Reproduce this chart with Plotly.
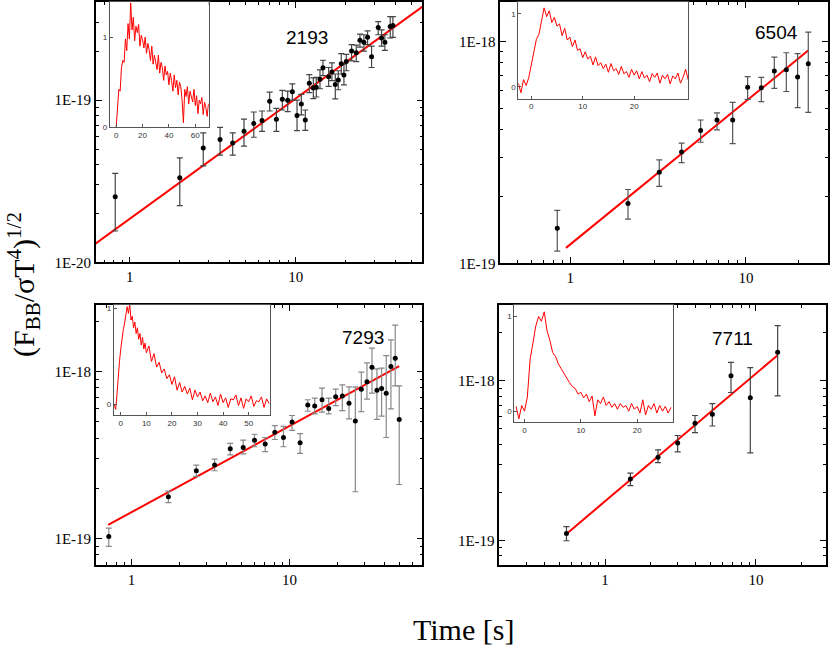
import numpy as np
import plotly.graph_objects as go

# ---------------- data ----------------
# Panel 2193 (flux in units of 1E-19)
t1 = [0.816, 2.00, 2.77, 3.50, 4.17, 4.88, 5.59, 6.27, 6.97, 7.65, 8.31, 8.95, 9.55, 10.19, 10.82,
      11.43, 12.09, 12.78, 13.32, 14.02, 14.61, 15.81, 16.55, 17.34, 18.07, 18.84, 19.55, 20.20,
      21.75, 23.20, 24.42, 25.80, 27.15, 28.70, 31.48, 32.97, 34.53, 37.19, 38.59]
f1 = [0.254, 0.332, 0.507, 0.572, 0.544, 0.643, 0.719, 0.750, 0.986, 0.764, 1.014, 1.000, 1.128,
      0.804, 0.946, 0.756, 1.274, 1.188, 1.204, 1.347, 1.585, 1.398, 1.492, 1.250, 1.335, 1.676,
      1.431, 1.731, 2.009, 1.963, 2.342, 2.279, 2.443, 1.857, 2.809, 2.420, 2.279, 2.848, 2.888]
hi1 = [0.354, 0.441, 0.628, 0.680, 0.628, 0.764, 0.846, 0.858, 1.123, 0.890, 1.150, 1.139, 1.262,
       1.000, 1.087, 0.870, 1.437, 1.372, 1.385, 1.541, 1.764, 1.592, 1.699, 1.451, 1.520, 1.936,
       1.668, 1.918, 2.205, 2.185, 2.559, 2.535, 2.681, 2.154, 3.054, 2.719, 2.535, 3.275, 3.275]
lo1 = [0.156, 0.224, 0.394, 0.458, 0.458, 0.521, 0.591, 0.643, 0.858, 0.643, 0.870, 0.850, 1.000,
       0.649, 0.811, 0.652, 1.113, 1.023, 1.047, 1.177, 1.418, 1.216, 1.322, 1.019, 1.160, 1.451,
       1.244, 1.520, 1.748, 1.731, 2.125, 2.009, 2.205, 1.592, 2.535, 2.154, 2.028, 2.420, 2.443]
unit1 = 1e-19

# Panel 6504 (flux in units of 1E-18)
t2 = [0.843, 2.13, 3.21, 4.30, 5.52, 6.84, 8.40, 10.22, 12.23, 14.50, 16.97, 19.68, 22.63]
f2 = [0.144, 0.186, 0.257, 0.317, 0.396, 0.442, 0.442, 0.621, 0.617, 0.734, 0.744, 0.690, 0.793]
hi2 = [0.173, 0.215, 0.292, 0.348, 0.442, 0.476, 0.531, 0.693, 0.688, 0.849, 0.888, 0.879, 1.100]
lo2 = [0.1135, 0.158, 0.222, 0.284, 0.351, 0.399, 0.346, 0.548, 0.535, 0.613, 0.594, 0.503, 0.478]
unit2 = 1e-18

# Panel 7293 (flux in units of 1E-18)
t3 = [0.719, 1.713, 2.574, 3.360, 4.220, 5.097, 6.010, 7.021, 8.081, 9.165, 10.39, 11.68, 13.06,
      14.45, 16.08, 17.72, 19.62, 21.61, 23.82, 26.12, 28.50, 30.94, 33.28, 35.78, 38.30, 40.98,
      43.87, 46.72, 49.52]
f3 = [0.1032, 0.1784, 0.2550, 0.2755, 0.3453, 0.3516, 0.3885, 0.3680, 0.4331, 0.4028, 0.4983,
      0.3747, 0.6305, 0.6219, 0.6776, 0.5998, 0.7059, 0.7124, 0.6448, 0.5050, 0.7833, 0.8692,
      1.0605, 0.7727, 0.7903, 0.7420, 1.070, 1.198, 0.5166]
hi3 = [0.1156, 0.1927, 0.2755, 0.2988, 0.3713, 0.3885, 0.4214, 0.4028, 0.4739, 0.4697, 0.5453,
       0.4252, 0.6776, 0.6931, 0.7940, 0.6930, 0.7833, 0.8307, 0.8085, 0.8085, 0.991, 1.125,
       1.379, 1.037, 1.046, 1.243, 1.544, 1.892, 0.820]
lo3 = [0.0901, 0.1645, 0.2361, 0.2550, 0.3170, 0.3213, 0.3548, 0.3316, 0.3920, 0.3548, 0.4450,
       0.3242, 0.5783, 0.5578, 0.5706, 0.5578, 0.6248, 0.5836, 0.5213, 0.1910, 0.5758, 0.684,
       0.742, 0.5166, 0.5404, 0.4028, 0.597, 0.820, 0.2110]
unit3 = 1e-18

# Panel 7711 (flux in units of 1E-18)
t4 = [0.555, 1.472, 2.244, 3.028, 3.945, 5.138, 6.831, 9.173, 13.92]
f4 = [0.1104, 0.2421, 0.3323, 0.4073, 0.5408, 0.6174, 1.0735, 0.7821, 1.509]
hi4 = [0.1220, 0.2636, 0.3687, 0.4540, 0.6057, 0.7184, 1.303, 1.208, 2.213]
lo4 = [0.0995, 0.2203, 0.3068, 0.3584, 0.4738, 0.5207, 0.8435, 0.3534, 0.8043]
unit4 = 1e-18

# power-law fits: (normalisation at t=1 s, index, t-span)
fit_norm = [1.858e-20, 1.217e-19, 1.44e-19, 1.76e-19]
fit_index = [0.741, 0.6446, 0.5151, 0.7998]
fit_span = [[0.55, 65.0], [0.945, 22.6], [0.712, 49.5], [0.552, 13.92]]

labels = ["2193", "6504", "7293", "7711"]

# inset light curves (normalised count rate vs time)
lc1_t = [0, 1, 2, 3, 4, 5, 6, 7, 8, 9, 10, 11, 12, 13, 14, 15, 16, 17, 18, 19, 20, 21, 22, 23, 24,
         25, 26, 27, 28, 29, 30, 31, 32, 33, 34, 35, 36, 37, 38, 39, 40, 41, 42, 43, 44, 45, 46, 47,
         48, 49, 50, 51, 52, 53, 54, 55, 56, 57, 58, 59, 60, 61, 62, 63, 64, 65, 66, 67, 68, 69, 70]
lc1_v = [0.00, 0.25, 0.42, 0.40, 0.66, 0.74, 0.72, 0.98, 0.85, 1.15,
         0.98, 1.38, 1.08, 1.22, 0.96, 1.12, 1.05, 1.14, 0.90, 1.02,
         0.97, 0.88, 1.00, 0.82, 0.93, 0.86, 0.74, 0.90, 0.70, 0.80,
         0.72, 0.64, 0.80, 0.60, 0.72, 0.66, 0.52, 0.68, 0.58, 0.62,
         0.47, 0.60, 0.52, 0.40, 0.58, 0.44, 0.52, 0.36, 0.50, 0.45,
         0.30, 0.05, 0.42, 0.34, 0.45, 0.26, 0.40, 0.33, 0.28, 0.42,
         0.24, 0.35, 0.15, 0.30, 0.26, 0.33, 0.14, 0.28, 0.22, 0.12, 0.26]

lc2_t = [-2.5, -2, -1.5, -1, -0.5, 0, 0.5, 1, 1.5, 2, 2.5, 3, 3.5, 4, 4.5, 5, 5.5, 6, 6.5, 7, 7.5,
         8, 8.5, 9, 9.5, 10, 10.5, 11, 11.5, 12, 12.5, 13, 13.5, 14, 14.5, 15, 15.5, 16, 16.5, 17,
         17.5, 18, 18.5, 19, 19.5, 20, 20.5, 21, 21.5, 22, 22.5, 23, 23.5, 24, 24.5, 25, 25.5, 26,
         26.5, 27, 27.5, 28, 28.5, 29, 29.5, 30, 30.5]
lc2_v = [0.05, -0.08, 0.10, 0.02, 0.12, 0.30, 0.45, 0.65, 0.72, 0.92,
         1.08, 0.96, 1.04, 0.88, 0.95, 0.83, 0.86, 0.70, 0.80, 0.64,
         0.68, 0.55, 0.64, 0.50, 0.52, 0.40, 0.48, 0.38, 0.42, 0.30,
         0.41, 0.29, 0.33, 0.25, 0.31, 0.20, 0.32, 0.22, 0.25, 0.17,
         0.28, 0.18, 0.21, 0.13, 0.24, 0.16, 0.22, 0.11, 0.21, 0.12,
         0.16, 0.07, 0.18, 0.13, 0.19, 0.05, 0.16, 0.11, 0.17, 0.04,
         0.15, 0.11, 0.19, 0.05, 0.13, 0.24, 0.10]

lc3_t = [-2.5, -2, -1.5, -1, -0.5, 0, 0.5, 1, 1.5, 2, 2.5, 3, 3.5, 4, 4.5, 5, 5.5, 6, 6.5, 7, 7.5,
         8, 8.5, 9, 9.5, 10, 11, 12, 13, 14, 15, 16, 17, 18, 19, 20, 21, 22, 23, 24, 25, 26, 27,
         28, 29, 30, 31, 32, 33, 34, 35, 36, 37, 38, 39, 40, 41, 42, 43, 44, 45, 46, 47, 48, 49,
         50, 51, 52, 53, 54, 55, 56, 57, 58]
lc3_v = [0.00, -0.05, 0.10, 0.30, 0.45, 0.58, 0.70, 0.78, 0.85, 0.92, 1.02, 0.95, 1.05, 0.88,
         0.92, 0.80, 0.86, 0.74, 0.80, 0.68, 0.74, 0.62, 0.70, 0.58, 0.64, 0.54,
         0.61, 0.45, 0.53, 0.39, 0.44, 0.33, 0.37, 0.27, 0.31, 0.21,
         0.29, 0.15, 0.23, 0.13, 0.19, 0.11, 0.17, 0.05, 0.15, 0.08,
         0.13, 0.04, 0.09, 0.02, 0.12, 0.03, 0.08, -0.01, 0.11, 0.02,
         0.07, -0.03, 0.06, 0.05, 0.10, -0.01, 0.07, -0.04, 0.06, 0.03,
         0.09, -0.02, 0.04, 0.03, 0.08, -0.03, 0.06, 0.01]

lc4_t = [-1.5, -1, -0.5, 0, 0.5, 1, 1.5, 2, 2.5, 3, 3.5, 4, 4.5, 5, 5.5, 6, 6.5, 7, 7.5, 8, 8.5,
         9, 9.5, 10, 10.5, 11, 11.5, 12, 12.5, 13, 13.5, 14, 14.5, 15, 15.5, 16, 16.5, 17, 17.5,
         18, 18.5, 19, 19.5, 20, 20.5, 21, 21.5, 22, 22.5, 23, 23.5, 24, 24.5, 25, 25.5, 26]
lc4_v = [0.05, -0.08, 0.06, 0.00, 0.15, 0.55, 0.72, 0.90, 1.00, 0.95,
         1.05, 0.85, 0.75, 0.62, 0.58, 0.50, 0.45, 0.40, 0.34, 0.30,
         0.26, 0.24, 0.18, 0.20, 0.14, 0.18, 0.10, 0.16, -0.05, 0.12,
         0.08, 0.15, 0.06, 0.10, 0.04, 0.08, 0.02, 0.08, 0.04, 0.06,
         0.00, 0.08, 0.02, 0.05, -0.02, 0.12, -0.04, 0.06, 0.02, 0.08,
         -0.02, 0.06, 0.00, 0.05, -0.02, 0.04]

# ---------------- layout geometry ----------------
W, H = 830, 645
def px_x(a, b):
    return [a / W, b / W]
def px_y(top, bottom):
    return [1 - bottom / H, 1 - top / H]

main_dom = [
    (px_x(96, 423), px_y(1, 265)),
    (px_x(501, 829), px_y(1, 266)),
    (px_x(96, 423), px_y(308, 572)),
    (px_x(500, 827), px_y(308, 572)),
]
main_xr = [[-0.205, 1.765], [-0.398, 1.467], [-0.225, 1.842], [-0.700, 1.464]]
main_yr = [[-20.0, -18.394], [-19.0, -17.823], [-19.157, -17.601], [-19.154, -17.524]]
ytick_vals = [[1e-20, 1e-19], [1e-19, 1e-18], [1e-19, 1e-18], [1e-19, 1e-18]]
ytick_text = [["1E-20", "1E-19"], ["1E-19", "1E-18"], ["1E-19", "1E-18"], ["1E-19", "1E-18"]]

inset_dom = [
    (px_x(110, 209), px_y(1, 128)),
    (px_x(519, 689), px_y(1, 99)),
    (px_x(114, 270), px_y(308, 420)),
    (px_x(515, 674), px_y(308, 427)),
]
inset_xr = [[-4.8, 70.2], [-2.5, 30.5], [-2.7, 58.2], [-1.8, 26.4]]
inset_yr = [[0.0, 1.39], [-0.16, 1.16], [-0.11, 1.04], [-0.115, 1.125]]
inset_xticks = [[0, 20, 40, 60], [0, 10, 20], [0, 10, 20, 30, 40, 50], [0, 10, 20]]

label_pos = [(307, 37), (777, 32), (363, 341), (733, 342)]

minor_x = [m * 10.0 ** e for e in range(-1, 3) for m in range(2, 10)]
minor_y = [m * 10.0 ** e for e in range(-21, -16) for m in range(2, 10)]

panels = [
    (t1, f1, hi1, lo1, unit1, "#444"),
    (t2, f2, hi2, lo2, unit2, "#555"),
    (t3, f3, hi3, lo3, unit3, "#888"),
    (t4, f4, hi4, lo4, unit4, "#444"),
]
curves = [(lc1_t, lc1_v), (lc2_t, lc2_v), (lc3_t, lc3_v), (lc4_t, lc4_v)]

fig = go.Figure()
layout = {}
serif = "Liberation Serif"

for i in range(4):
    n = i + 1
    xa = "x" if n == 1 else f"x{n}"
    ya = "y" if n == 1 else f"y{n}"
    t, f, hi, lo, unit, ecol = panels[i]
    t = np.array(t); f = np.array(f) * unit
    hi = np.array(hi) * unit; lo = np.array(lo) * unit

    span = np.array(fit_span[i])
    fig.add_trace(go.Scatter(x=span, y=fit_norm[i] * span ** fit_index[i], mode="lines",
                             line=dict(color="#ff0000", width=2), xaxis=xa, yaxis=ya,
                             hoverinfo="skip"))
    fig.add_trace(go.Scatter(x=t, y=f, mode="markers",
                             marker=dict(color="black", size=5),
                             error_y=dict(type="data", symmetric=False, array=hi - f,
                                          arrayminus=f - lo, color=ecol, thickness=1.2, width=3),
                             xaxis=xa, yaxis=ya))

    xd, yd = main_dom[i]
    layout["xaxis" if n == 1 else f"xaxis{n}"] = dict(
        type="log", domain=xd, range=main_xr[i], anchor=ya,
        showline=True, linecolor="black", linewidth=1.6, mirror="allticks",
        ticks="inside", ticklen=6, tickwidth=1.2, tickcolor="black",
        tickmode="array", tickvals=[1, 10], ticktext=["1", "10"],
        tickfont=dict(family=serif, size=15, color="black"),
        showgrid=False, zeroline=False,
        minor=dict(ticks="inside", ticklen=3, tickwidth=1, tickcolor="black",
                   tickmode="array", tickvals=minor_x, showgrid=False))
    layout["yaxis" if n == 1 else f"yaxis{n}"] = dict(
        type="log", domain=yd, range=main_yr[i], anchor=xa,
        showline=True, linecolor="black", linewidth=1.6, mirror="allticks",
        ticks="inside", ticklen=6, tickwidth=1.2, tickcolor="black",
        tickmode="array", tickvals=ytick_vals[i], ticktext=ytick_text[i],
        tickfont=dict(family=serif, size=15, color="black"),
        showgrid=False, zeroline=False,
        minor=dict(ticks="inside", ticklen=3, tickwidth=1, tickcolor="black",
                   tickmode="array", tickvals=minor_y, showgrid=False))

    # inset
    m = n + 4
    lt, lv = curves[i]
    fig.add_trace(go.Scatter(x=lt, y=lv, mode="lines", line=dict(color="#ff0000", width=1),
                             xaxis=f"x{m}", yaxis=f"y{m}", hoverinfo="skip"))
    ixd, iyd = inset_dom[i]
    layout[f"xaxis{m}"] = dict(
        domain=ixd, range=inset_xr[i], anchor=f"y{m}",
        showline=True, linecolor="#555", linewidth=1, mirror=True,
        ticks="inside", ticklen=3, tickcolor="#555", tickvals=inset_xticks[i],
        tickfont=dict(family="Liberation Sans", size=8, color="#333"),
        showgrid=False, zeroline=False)
    layout[f"yaxis{m}"] = dict(
        domain=iyd, range=inset_yr[i], anchor=f"x{m}",
        showline=True, linecolor="#555", linewidth=1, mirror=True,
        ticks="inside", ticklen=3, tickcolor="#555", tickvals=[0, 1],
        tickfont=dict(family="Liberation Sans", size=8, color="#333"),
        showgrid=False, zeroline=False)

annotations = []
for i in range(4):
    x, y = label_pos[i]
    annotations.append(dict(text=labels[i], x=x / W, y=1 - y / H, xref="paper", yref="paper",
                            showarrow=False, xanchor="center", yanchor="middle",
                            font=dict(family="Liberation Sans", size=19, color="black")))
annotations.append(dict(text="Time [s]", x=464 / W, y=1 - 637 / H, xref="paper", yref="paper",
                        showarrow=False, xanchor="center", yanchor="middle",
                        font=dict(family=serif, size=30, color="black")))
annotations.append(dict(text="(F<sub>BB</sub>/σT<sup>4</sup>)<sup>1/2</sup>", x=24 / W,
                        y=1 - 287 / H, xref="paper", yref="paper", textangle=-90,
                        showarrow=False, xanchor="center", yanchor="middle",
                        font=dict(family=serif, size=30, color="black")))

fig.update_layout(width=W, height=H, margin=dict(l=0, r=0, t=0, b=0),
                  paper_bgcolor="white", plot_bgcolor="white", showlegend=False,
                  annotations=annotations, **layout)

fig.write_html("out.html", config={"displayModeBar": False},
               post_script="document.body.style.margin='0';document.body.style.overflow='hidden';")
